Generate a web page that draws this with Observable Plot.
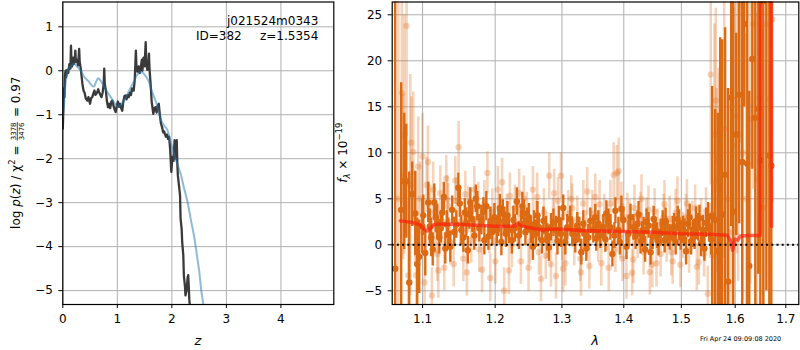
<!DOCTYPE html>
<html><head><meta charset="utf-8">
<script src="https://cdn.jsdelivr.net/npm/d3@7"></script>
<script src="https://cdn.jsdelivr.net/npm/@observablehq/plot@0.6"></script>
<style>
body{margin:0;background:#fff;}
#wrap{position:relative;width:800px;height:350px;font-family:"DejaVu Sans",sans-serif;background:#fff;}
#left,#right{position:absolute;top:0;}
#left{left:0;} #right{left:325px;}
#stamp{position:absolute;left:700px;top:335px;font-size:6.5px;white-space:nowrap;}
</style></head><body>
<div id="wrap"><div id="left"></div><div id="right"></div><div id="stamp">Fri Apr 24 09:09:08 2020</div></div>
<script>
// ---------- left panel data ----------
const fieldName = "j021524m0343";
const idText = "ID=382";
const zText = "z=1.5354";
const zTicks = [0, 1, 2, 3, 4];
const logpTicks = [-5, -4, -3, -2, -1, 0, 1];
// log p(z) (dark curve)
const pzZ = [0.00,0.01,0.02,0.03,0.04,0.05,0.06,0.08,0.10,0.12,0.14,0.15,0.16,0.17,0.19,0.20,0.22,0.23,0.24,0.26,0.28,0.30,0.31,0.33,0.34,0.36,0.38,0.40,0.42,0.45,0.47,0.50,0.52,0.54,0.56,0.58,0.60,0.63,0.65,0.67,0.69,0.71,0.73,0.75,0.76,0.77,0.79,0.81,0.83,0.85,0.87,0.89,0.91,0.93,0.95,0.97,0.99,1.01,1.03,1.05,1.07,1.09,1.11,1.13,1.15,1.17,1.19,1.21,1.23,1.25,1.27,1.29,1.30,1.32,1.34,1.35,1.37,1.39,1.41,1.43,1.45,1.46,1.48,1.50,1.52,1.53,1.55,1.57,1.58,1.59,1.61,1.63,1.66,1.68,1.70,1.72,1.74,1.76,1.78,1.80,1.82,1.84,1.86,1.87,1.89,1.91,1.93,1.95,1.97,1.99,2.01,2.03,2.05,2.07,2.09,2.10,2.11,2.13,2.15,2.16,2.18,2.19,2.21,2.22,2.24,2.25,2.27,2.29,2.30,2.31,2.32,2.34,2.36];
const pzLogP = [-1.32,-0.9,-0.4,-0.6,-0.1,0.0,-0.15,0.02,-0.05,0.15,0.05,0.57,0.2,0.1,0.3,0.15,0.25,0.46,0.2,0.25,0.12,0.5,0.2,0.05,-0.07,-0.3,-0.45,-0.5,-0.62,-0.68,-0.6,-0.75,-0.62,-0.6,-0.52,-0.45,-0.55,-0.49,-0.42,-0.5,-0.55,-0.6,-0.5,-0.3,0.05,-0.3,-0.45,-0.7,-0.83,-0.75,-0.85,-0.7,-0.68,-0.8,-0.88,-0.94,-0.8,-0.7,-0.82,-0.75,-0.85,-0.91,-0.7,-0.58,-0.56,-0.65,-0.55,-0.6,-0.5,-0.55,-0.4,-0.45,-0.45,-0.2,0.46,0.1,-0.02,0.1,-0.05,0.08,0.25,0.0,0.3,0.1,0.65,0.2,0.02,0.2,0.39,0.05,-0.3,-0.7,-0.98,-0.85,-0.83,-0.95,-0.8,-0.75,-1.0,-1.2,-1.28,-1.4,-1.38,-1.43,-1.5,-1.45,-1.55,-1.5,-1.81,-2.3,-1.96,-2.05,-1.58,-2.0,-1.58,-2.1,-2.38,-2.6,-2.83,-3.36,-3.6,-3.9,-4.2,-4.65,-4.9,-5.11,-5.0,-4.7,-4.65,-4.9,-5.2,-5.5,-6.0];
// template-fit p(z) (light blue curve)
const fitZ = [0.00,0.02,0.05,0.08,0.12,0.17,0.21,0.26,0.33,0.40,0.48,0.52,0.57,0.61,0.65,0.69,0.73,0.80,0.88,0.95,1.01,1.06,1.11,1.16,1.22,1.30,1.36,1.43,1.47,1.52,1.58,1.64,1.70,1.75,1.80,1.86,1.92,1.97,2.02,2.08,2.16,2.22,2.29,2.35,2.41,2.46,2.50,2.54,2.58,2.62];
const fitLogP = [-1.05,-0.8,-0.3,-0.05,0.08,0.13,0.16,0.1,0.0,-0.15,-0.25,-0.32,-0.36,-0.25,-0.17,-0.22,-0.3,-0.45,-0.6,-0.74,-0.81,-0.78,-0.7,-0.6,-0.45,-0.25,-0.1,-0.03,-0.05,-0.12,-0.25,-0.49,-0.68,-0.88,-1.12,-1.25,-1.35,-1.6,-1.8,-2.05,-2.34,-2.65,-3.0,-3.4,-3.78,-4.2,-4.54,-5.0,-5.35,-5.9];

// ---------- right panel data ----------
const waveTicks = [1.1, 1.2, 1.3, 1.4, 1.5, 1.6, 1.7];
const fluxTicks = [-5, 0, 5, 10, 15, 20, 25];
// dark (primary) spectrum points
const darkWave = [1.0645,1.0722,1.0761,1.0787,1.0826,1.0865,1.0904,1.0930,1.0956,1.0996,1.1036,1.1075,1.1115,1.1156,1.1196,1.1223,1.1263,1.1304,1.1344,1.1372,1.1426,1.1482,1.1523,1.1551,1.1592,1.1634,1.1648,1.1704,1.1746,1.1803,1.1846,1.1874,1.1932,1.1960,1.2025,1.2068,1.2111,1.2155,1.2199,1.2243,1.2287,1.2316,1.2376,1.2420,1.2465,1.2525,1.2555,1.2600,1.2646,1.2692,1.2753,1.2799,1.2830,1.2907,1.2954,1.3020,1.3052,1.3083,1.3162,1.3209,1.3273,1.3337,1.3385,1.3417,1.3498,1.3530,1.3579,1.3661,1.3711,1.3777,1.3810,1.3860,1.3910,1.3960,1.3993,1.4045,1.4079,1.4164,1.4233,1.4284,1.4336,1.4387,1.4457,1.4492,1.4544,1.4597,1.4667,1.4702,1.4756,1.4845,1.4898,1.4934,1.4988,1.5031,1.5085,1.5121,1.5176,1.5212,1.5267,1.5304,1.5359,1.5396,1.5452,1.5489,1.5545,1.5564,1.5620,1.5670,1.5714,1.5752,1.5808,1.5866,1.5923,1.5962,1.6019,1.6077,1.6135,1.6174,1.6233,1.6272,1.6331,1.6390,1.6449,1.6489,1.6548,1.6608,1.6668,1.6708,
  1.1010,1.1095,1.1135,1.1176,1.1243,1.1284,1.1324,1.1398,1.1454,1.1502,1.1571,1.1613,1.1676,1.1725,1.1775,1.1832,1.1903,1.1989,1.2046,1.2090,1.2133,1.2177,1.2265,1.2346,1.2398,1.2443,1.2495,1.2570,1.2623,1.2715,1.2776,1.2868,1.2930,1.2985,1.3130,1.3241,1.3305,1.3353,1.3450,1.3546,1.3612,1.3694,1.3744,1.3843,1.3935,1.4113,1.4199,1.4250,1.4310,1.4362,1.4422,1.4510,1.4570,1.4632,1.4720,1.4791,1.4870,1.4960,1.5058,1.5150,1.5240,1.5330,1.5420,1.5510];
const darkFlux = [-2.6,3.8,6.9,6.9,-4.1,5.5,3.4,-2.1,-1.3,2.0,-0.9,4.6,0.8,4.6,2.5,0.8,3.5,-0.4,1.2,-0.2,1.4,6.2,1.6,0.8,2.4,3.3,4.6,1.0,4.2,2.7,0.5,4.2,2.6,1.4,1.6,4.0,3.4,1.2,1.6,0.5,1.8,4.7,2.3,3.4,2.5,1.6,-0.2,1.2,1.9,0.5,1.6,-0.3,1.9,1.6,2.7,4.0,0.3,1.9,1.2,0.5,1.6,2.3,-0.4,0.8,1.6,3.0,2.3,1.9,3.4,1.9,-1.0,3.7,1.6,3.9,2.7,-0.2,1.2,1.9,2.3,0.4,1.6,2.5,-0.8,0.9,1.6,0.2,2.3,0.5,1.2,1.7,0.3,2.8,0.8,1.6,-0.7,2.3,0.4,1.2,2.6,1.9,0.2,1.6,2.4,3.0,0.6,3.2,2.7,-0.7,7.5,3.3,7.6,-4.0,16.0,3.6,12.0,16.3,9.0,24.0,8.8,-2.3,20.2,13.8,14.8,9.2,26.5,30.0,9.7,8.6,
  3.2,2.0,-0.5,3.0,1.8,5.2,2.2,3.8,2.2,4.5,3.5,-0.6,2.8,5.0,1.8,3.6,0.9,3.0,2.4,0.3,2.6,3.2,2.7,1.0,4.2,1.4,3.0,2.2,3.2,2.6,0.8,2.4,0.4,1.2,2.8,2.1,-0.8,1.2,2.6,0.7,1.0,0.6,2.5,1.0,0.3,3.0,0.9,3.3,1.1,-0.5,2.1,2.8,1.0,1.4,2.6,0.8,2.0,2.4,1.4,3.0,0.9,2.9,-0.4,1.8];
const darkErr = [32,13.8,7.4,6.2,12,3.5,4.6,5,4,3,2.5,2.2,2.1,2.0,1.9,1.8,1.8,1.7,1.7,1.7,1.6,1.6,1.6,1.6,1.6,1.6,1.6,1.6,1.6,1.6,1.6,1.6,1.5,1.5,1.5,1.5,1.5,1.5,1.5,1.5,1.5,1.5,1.5,1.5,1.5,1.5,1.5,1.5,1.5,1.5,1.5,1.5,1.5,1.5,1.5,1.4,1.4,1.4,1.4,1.4,1.4,1.4,1.4,1.4,1.4,1.4,1.4,1.4,1.4,1.4,1.4,1.4,1.4,1.4,1.4,1.4,1.4,1.4,1.4,1.4,1.4,1.4,1.4,1.4,1.4,1.4,1.4,1.4,1.4,1.4,1.4,1.4,1.4,1.5,1.5,1.5,1.5,1.5,1.5,1.5,1.5,1.6,1.6,1.6,1.7,14,12,15,15,19,16,21,14,24,11,14,20,9,25,19,12,21,18,23,40,35,28,30,
  2.2,1.9,1.8,1.7,1.6,1.6,1.5,1.5,1.5,1.5,1.5,1.5,1.5,1.5,1.5,1.5,1.5,1.5,1.5,1.5,1.5,1.5,1.5,1.5,1.5,1.5,1.5,1.5,1.5,1.5,1.5,1.5,1.5,1.5,1.4,1.4,1.4,1.4,1.4,1.4,1.4,1.4,1.4,1.4,1.4,1.4,1.4,1.4,1.4,1.4,1.4,1.4,1.4,1.4,1.4,1.4,1.4,1.4,1.4,1.4,1.4,1.4,1.4,1.5];
// light (secondary) spectrum points
const lightWave = [1.0684,1.0730,1.0748,1.0761,1.0791,1.0813,1.0839,1.0852,1.0878,1.0904,1.0917,1.0943,1.0970,1.1000,1.1026,1.1071,1.1101,1.1124,1.1141,1.1168,1.1196,1.1236,1.1263,1.1290,1.1317,1.1344,1.1372,1.1418,1.1454,1.1486,1.1509,1.1551,1.1579,1.1620,1.1662,1.1704,1.1732,1.1775,1.1813,1.1846,1.1889,1.1917,1.1960,1.2003,1.2039,1.2082,1.2130,1.2170,1.2213,1.2243,1.2287,1.2331,1.2376,1.2420,1.2465,1.2510,1.2555,1.2600,1.2646,1.2677,1.2722,1.2768,1.2803,1.2830,1.2861,1.2907,1.2938,1.2985,1.3005,1.3052,1.3099,1.3146,1.3193,1.3241,1.3289,1.3337,1.3385,1.3434,1.3482,1.3530,1.3579,1.3628,1.3677,1.3727,1.3777,1.3832,1.3860,1.3885,1.3915,1.3943,1.3977,1.4045,1.4096,1.4141,1.4181,1.4233,1.4284,1.4336,1.4387,1.4444,1.4486,1.4527,1.4579,1.4632,1.4685,1.4738,1.4791,1.4845,1.4898,1.4982,1.5031,1.5085,1.5139,1.5194,1.5249,1.5317,1.5359,1.5415,1.5483,1.5526,1.5538,1.5601,1.5607,1.5631,1.5644,1.5682,1.5707,1.5733,1.5790,1.5847,1.5923,1.5967,1.6033,1.6058,1.6116,1.6149,1.6214,1.6291,1.6351,1.6424,1.6469,1.6548,1.6608,1.6674,1.6728,
  1.1055,1.1210,1.1330,1.1440,1.1600,1.1760,1.1930,1.2100,1.2200,1.2350,1.2490,1.2620,1.2750,1.2880,1.3020,1.3160,1.3300,1.3400,1.3600,1.3750,1.3960,1.4060,1.4160,1.4300,1.4420,1.4560,1.4700,1.4820,1.4930,1.5100,1.5280,1.5450];
const lightFlux = [5.0,16.5,7.4,12.0,23.8,-3.3,6.5,11.1,10.1,3.0,-3.3,8.5,5.0,9.6,-4.1,9.0,3.5,-5.5,6.0,2.0,-1.0,5.6,2.5,-2.5,7.2,4.2,0.3,-2.1,4.8,10.6,2.5,-1.5,5.5,3.8,0.5,6.0,2.8,-0.5,-2.7,4.5,7.8,1.5,3.6,-1.8,6.0,2.4,-5.0,3.0,5.3,0.0,4.0,2.2,-1.8,5.0,3.2,0.4,6.0,2.3,-0.8,-3.7,3.6,1.0,7.5,-2.1,2.6,-3.4,4.8,7.5,0.8,-2.0,3.4,5.0,0.2,2.8,-1.5,4.5,1.2,-2.3,3.4,5.2,0.6,-2.0,3.0,1.8,4.5,7.6,-0.5,7.8,8.0,1.0,-1.5,-3.4,2.4,-3.05,4.0,1.0,3.2,-0.8,2.6,-2.97,-2.17,3.6,1.4,-1.0,3.0,0.6,2.8,-1.8,3.5,-2.17,1.0,3.0,-0.6,2.2,4.0,-1.89,2.5,-1.0,-5.33,1.5,18.5,-1.16,12.0,15.7,7.0,9.2,8.6,-4.5,12.6,5.0,1.4,10.8,14.0,12.0,26.0,10.0,5.0,13.7,24.0,7.2,16.0,4.0,24.0,15.9,24.5,
  6.5,-2.8,4.9,7.0,-3.0,4.2,-3.6,6.8,-2.8,5.6,-2.5,5.2,-1.2,5.6,-2.6,4.0,-3.0,5.8,4.4,-2.5,4.2,3.0,-1.6,5.0,3.8,-2.0,4.4,-0.8,4.8,4.5,-2.4,3.6];
const lightErr = [32,12,9,13,12,8,12,5,6.5,5,4,5.4,4,4.7,3,3.9,3,3,3,3,3,3,2.5,2.5,2.5,2.5,2.5,2.5,2.5,2.8,2.5,2.5,2.5,2.5,2.5,2.5,2.5,2.5,2.5,2.5,2.3,2.5,2.5,2.5,2.5,2.5,2.5,2.5,2.5,2.5,2.5,2.5,2.5,2.5,2.5,2.5,2.5,2.5,2.5,2.5,2.5,2.5,2.5,2.5,2.5,2.5,2.5,2.5,2.5,2.5,2.5,2.5,2.5,2.5,2.5,2.5,2.5,2.5,2.5,2.5,2.5,2.5,2.5,2.5,2.5,3.5,2.5,3,3.6,2.5,2.5,2.5,2.5,2.5,2.5,2.5,2.5,2.5,2.5,2.5,2.5,2.5,2.5,2.5,2.5,2.5,2.5,2.5,2.5,2.5,2.5,2.5,2.5,2.5,2.5,2.5,2.5,2.5,3,3,12,8,12,10,10,10,10,10,14,12,14,15,15,16,15,16,18,18,18,18,18,20,20,20,20,
  3,3,2.6,2.6,2.6,2.6,2.6,2.6,2.6,2.6,2.6,2.6,2.6,2.6,2.6,2.6,2.6,2.6,2.6,2.6,2.6,2.6,2.6,2.6,2.6,2.6,2.6,2.6,2.6,2.6,2.6,2.6];
// best-fit model (red line)
const modelWave = [1.0710,1.0850,1.0960,1.1030,1.1060,1.1100,1.1140,1.1200,1.1500,1.1800,1.2100,1.2280,1.2330,1.2400,1.2550,1.2700,1.2800,1.3000,1.3300,1.3600,1.4000,1.4500,1.5000,1.5500,1.5850,1.5920,1.5950,1.5990,1.6050,1.6100,1.6300,1.6480,1.6489,1.6495,1.6705,1.6712];
const modelFlux = [2.6,2.45,2.2,1.65,1.5,1.75,2.15,2.25,2.2,2.1,2.0,2.05,2.3,2.0,1.8,1.6,1.7,1.7,1.55,1.5,1.45,1.35,1.2,1.15,1.05,0.3,-0.6,0.6,0.5,0.95,1.0,1.0,1.3,30,30,2.0];

// ---------- helpers ----------
const fmtNum = d => (d < 0 ? "\u2212" + Math.abs(d) : String(d));
const fmtWave = d => d.toFixed(1);
const gridStyle = {stroke: "#b0b0b0", strokeOpacity: 1, strokeWidth: 1};
const styleL = {fontFamily: "DejaVu Sans", fontSize: "12px", background: "white", overflow: "visible"};
const styleR = {fontFamily: "DejaVu Sans", fontSize: "12px", background: "transparent", overflow: "visible"};

const pzRows = pzZ.map((z, i) => ({z, p: pzLogP[i]}));
const fitRows = fitZ.map((z, i) => ({z, p: fitLogP[i]}));
const darkRows = darkWave.map((w, i) => ({w, f: darkFlux[i], e: darkErr[i]}));
const lightRows = lightWave.map((w, i) => ({w, f: lightFlux[i], e: lightErr[i]}));
const modelRows = modelWave.map((w, i) => ({w, f: modelFlux[i]}));

// ---------- left plot ----------
const left = Plot.plot({
  width: 340, height: 350,
  marginLeft: 62.3, marginRight: 6.7, marginTop: 1.5, marginBottom: 46,
  style: styleL,
  x: {domain: [0, 4.97]},
  y: {domain: [-5.316, 1.564]},
  marks: [
    Plot.gridX(zTicks, gridStyle),
    Plot.gridY(logpTicks, gridStyle),
    Plot.line(pzRows, {x: "z", y: "p", stroke: "#3a3a3a", strokeWidth: 2.3, strokeLinejoin: "round", clip: true}),
    Plot.line(fitRows, {x: "z", y: "p", stroke: "#1f77b4", strokeOpacity: 0.5, strokeWidth: 2, curve: "catmull-rom", clip: true}),
    Plot.frame({stroke: "black", strokeWidth: 1.2}),
    Plot.axisX(zTicks, {tickSize: 4, tickPadding: 6, tickFormat: fmtNum, label: null, fontSize: 12}),
    Plot.axisY(logpTicks, {tickSize: 4, tickPadding: 6, tickFormat: fmtNum, label: null, fontSize: 12})
  ]
});
document.getElementById("left").append(left);

// ---------- right plot ----------
const right = Plot.plot({
  width: 475, height: 350,
  marginLeft: 66.7, marginRight: 1.7, marginTop: 1.5, marginBottom: 46,
  style: styleR,
  x: {type: "log", domain: [1.0607, 1.7267]},
  y: {domain: [-6.49, 26.39]},
  marks: [
    Plot.gridX(waveTicks, gridStyle),
    Plot.gridY(fluxTicks, gridStyle),
    Plot.ruleX(lightRows, {x: "w", y1: d => d.f - d.e, y2: d => d.f + d.e, stroke: "#e07020", strokeOpacity: 0.3, strokeWidth: 2.6, clip: true}),
    Plot.dot(lightRows, {x: "w", y: "f", r: 3.2, fill: "#e07020", fillOpacity: 0.3, stroke: "none", clip: true}),
    Plot.ruleX(darkRows, {x: "w", y1: d => d.f - d.e, y2: d => d.f + d.e, stroke: "#dc6a12", strokeWidth: 2.4, clip: true}),
    Plot.dot(darkRows, {x: "w", y: "f", r: 3.2, fill: "#dc6a12", stroke: "none", clip: true}),
    Plot.line(modelRows, {x: "w", y: "f", stroke: "#ff1a0a", strokeOpacity: 0.65, strokeWidth: 3.5, clip: true}),
    Plot.ruleY([0], {stroke: "black", strokeWidth: 2, strokeDasharray: "2,3.2"}),
    Plot.frame({stroke: "black", strokeWidth: 1.2}),
    Plot.axisX(waveTicks, {tickSize: 4, tickPadding: 6, tickFormat: fmtWave, label: null, fontSize: 12}),
    Plot.axisY(fluxTicks, {tickSize: 4, tickPadding: 6, tickFormat: fmtNum, label: null, fontSize: 12})
  ]
});
document.getElementById("right").append(right);

// ---------- annotations ----------
const ls = d3.select(left);
ls.append("text").attr("x", 318.3).attr("y", 24.5).attr("text-anchor", "end").attr("font-size", 12).attr("fill", "black").text(fieldName);
ls.append("text").attr("x", 241.7).attr("y", 39.5).attr("text-anchor", "end").attr("font-size", 12).attr("fill", "black").text(idText);
ls.append("text").attr("x", 318.3).attr("y", 39.5).attr("text-anchor", "end").attr("font-size", 12).attr("fill", "black").text(zText);
ls.append("text").attr("x", 197.8).attr("y", 344.5).attr("text-anchor", "middle").attr("font-size", 13).attr("font-style", "italic").attr("fill", "black").text("z");

const rs = d3.select(right);
rs.append("text").attr("x", 66.7 + (475 - 66.7 - 1.7) / 2).attr("y", 344.5).attr("text-anchor", "middle").attr("font-size", 13).attr("font-style", "italic").attr("fill", "black").text("\u03bb");

function rotatedLabel(svgSel, x, y, parts) {
  const g = svgSel.append("g").attr("transform", `translate(${x},${y}) rotate(-90)`).attr("text-anchor", "start");
  const inner = g.append("g");
  let cx = 0;
  for (const p of parts) {
    if (p.frac) {
      const num = inner.append("text").attr("font-size", 7).attr("fill", "black").attr("text-anchor", "start").text(p.num);
      const den = inner.append("text").attr("font-size", 7).attr("fill", "black").attr("text-anchor", "start").text(p.den);
      const w = Math.max(num.node().getComputedTextLength(), den.node().getComputedTextLength());
      num.attr("x", cx + 1.5).attr("y", -3.4);
      den.attr("x", cx + 1.5).attr("y", 4.4);
      inner.append("line").attr("x1", cx + 1).attr("x2", cx + w + 2).attr("y1", -2.2).attr("y2", -2.2).attr("stroke", "black").attr("stroke-width", 0.7);
      cx += w + 3;
    } else {
      const t = inner.append("text").attr("x", cx).attr("y", p.dy || 0).attr("font-size", p.size || 12).attr("fill", "black").attr("text-anchor", "start");
      if (p.italic) t.attr("font-style", "italic");
      t.text(p.t);
      cx += t.node().getComputedTextLength();
    }
  }
  inner.attr("transform", `translate(${-cx / 2},0)`);
}
rotatedLabel(ls, 19.5, 152.7, [
  {t: "log "}, {t: "p", italic: true}, {t: "("}, {t: "z", italic: true}, {t: ") / \u03c7"},
  {t: "2", size: 8.5, dy: -5}, {t: " = "}, {frac: true, num: "3378", den: "3476"}, {t: " = 0.97"}
]);
rotatedLabel(rs, 22, 152.7, [
  {t: "f", italic: true}, {t: "\u03bb", italic: true, size: 8.5, dy: 3}, {t: " \u00d7 10"}, {t: "\u221219", size: 8.5, dy: -5}
]);
</script>
</body></html>
